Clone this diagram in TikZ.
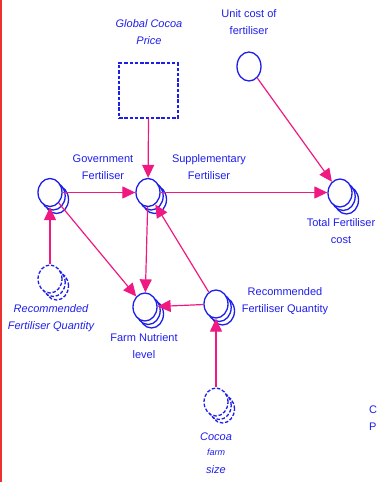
\documentclass[tikz,border=0pt]{standalone}
\usepackage{fontspec}
\setmainfont{Liberation Sans}
\usetikzlibrary{arrows.meta,shapes.geometric}

\definecolor{cblue}{RGB}{30,30,235}
\definecolor{cpink}{RGB}{240,25,130}
\definecolor{cred}{RGB}{235,50,50}

\tikzset{
  bub/.style={ellipse,draw=cblue,line width=1.3pt,fill=white,
    minimum width=24pt,minimum height=28pt,inner sep=0pt},
  ghost/.style={dash pattern=on 3.5pt off 1.8pt},
  lbl/.style={text=cblue,align=center,inner sep=0pt,
    font=\fontsize{11}{17}\selectfont},
  ilbl/.style={lbl,font=\fontsize{11}{17}\selectfont\itshape},
  link/.style={draw=cpink,line width=1.2pt,
    -{Triangle[length=13pt,width=12pt]}},
}

% a variable drawn as a stack of three circles; the front one is named
\newcommand\cstack[4][]{%
  \node[bub,#1] (#2-b2) at (#3+6.5,#4+7) {};
  \node[bub,#1] (#2-b1) at (#3+3.2,#4+3.5) {};
  \node[bub,#1] (#2) at (#3,#4) {};
}

\begin{document}
\begin{tikzpicture}[x=1pt,y=-1pt]
\useasboundingbox (0,0) rectangle (377,482);

% frame line on the left
\draw[cred,line width=1.6pt] (1.2,0) -- (1.2,482);

% external price (dashed box) and unit cost
\node[draw=cblue,line width=1.3pt,ghost,minimum width=59pt,minimum height=55pt,
  inner sep=0pt] (gcp) at (148.5,90.5) {};
\node[bub,minimum height=29pt] (unit) at (249,66.5) {};

% stacked variables
\cstack{gov}{50}{192.5}
\cstack{supp}{148}{192.5}
\cstack{tot}{340}{193}
\cstack{farm}{145}{307}
\cstack{recr}{216}{304}
\cstack[ghost]{recl}{50}{279}
\cstack[ghost]{farmsize}{216}{402}

% labels
\node[ilbl] (t-gcp) at (149,32.5) {Global Cocoa\\Price};
\node[lbl] (t-unit) at (249,22) {Unit cost of\\fertiliser};
\node[lbl] (t-gov) at (103,167.5) {Government\\Fertiliser};
\node[lbl] (t-supp) at (209,167.5) {Supplementary\\Fertiliser};
\node[lbl] (t-tot) at (341,231.5) {Total Fertiliser\\cost};
\node[lbl] (t-farm) at (144,346) {Farm Nutrient\\level};
\node[lbl] (t-recr) at (285,301) {Recommended\\Fertiliser Quantity};
\node[ilbl] (t-recl) at (51,318.5) {Recommended\\Fertiliser Quantity};
\node[ilbl] (t-size1) at (216,437) {Cocoa};
\node[ilbl,font=\fontsize{9}{11}\selectfont\itshape] (t-size2) at (216,452.5) {farm};
\node[ilbl] (t-size3) at (216,470) {size};
\node[lbl,anchor=west] (t-c) at (369,410) {C};
\node[lbl,anchor=west] (t-p) at (369,427) {P};

% causal links
\draw[link] (gcp.south) -- (supp);
\draw[link] (unit) -- (tot);
\draw[link] (gov) -- (supp);
\draw[link] (supp.east) -- (supp.east -| tot.west);
\draw[link] (gov) -- (farm);
\draw[link] (supp) -- (farm);
\draw[link] (recr) -- (supp);
\draw[link] (recr) -- (farm);
\draw[link] (recl) -- (gov);
\draw[link] (farmsize) -- (recr);
\end{tikzpicture}
\end{document}
